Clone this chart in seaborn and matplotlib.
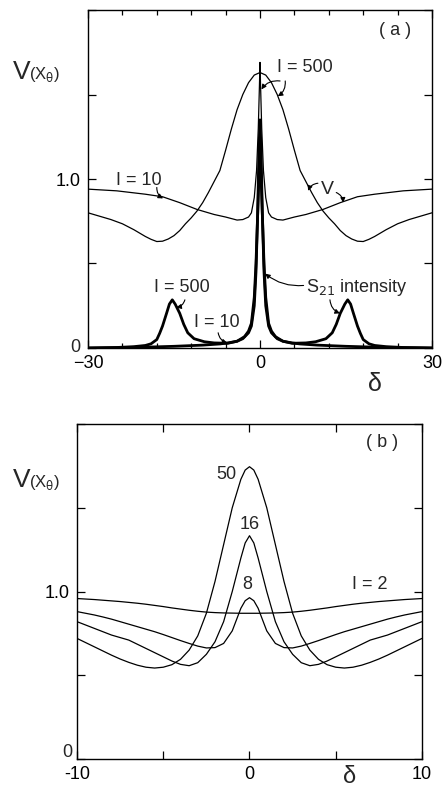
import numpy as np
import matplotlib
matplotlib.use("Agg")
import matplotlib.pyplot as plt
import seaborn as sns

# ---- panel (a) data ----
# V for I=10 (shallow dip plus a narrow spike at delta=0)
a_v10_x = [-30, -25, -20, -17, -14, -11, -8, -6, -4, -3, -2, -1.5, -1.0, -0.6, -0.3, -0.1, 0,
           0.1, 0.3, 0.6, 1.0, 1.5, 2, 3, 4, 6, 8, 11, 14, 17, 20, 25, 30]
a_v10_y = [0.94, 0.93, 0.91, 0.895, 0.86, 0.82, 0.79, 0.775, 0.757, 0.76, 0.775, 0.80, 0.89, 1.05, 1.30, 1.55, 1.69,
           1.55, 1.30, 1.05, 0.89, 0.80, 0.775, 0.76, 0.757, 0.775, 0.79, 0.82, 0.86, 0.895, 0.91, 0.93, 0.94]

# V for I=500 (broad peak)
a_v500_x = [-30, -28, -26, -24, -22, -20, -19, -18, -17, -16, -15, -14, -13, -12, -11, -10, -9, -8, -7,
            -6, -5, -4, -3, -2, -1, 0, 1, 2, 3, 4, 5, 6,
            7, 8, 9, 10, 11, 12, 13, 14, 15, 16, 17, 18, 19, 20, 22, 24, 26, 28, 30]
a_v500_y = [0.80, 0.78, 0.76, 0.735, 0.70, 0.66, 0.643, 0.63, 0.632, 0.645, 0.665, 0.695, 0.735, 0.77, 0.81, 0.86, 0.92, 0.985, 1.05,
            1.17, 1.295, 1.41, 1.50, 1.57, 1.615, 1.63, 1.615, 1.57, 1.50, 1.41, 1.295, 1.17,
            1.05, 0.985, 0.92, 0.86, 0.81, 0.77, 0.735, 0.695, 0.665, 0.645, 0.632, 0.63, 0.643, 0.66, 0.70, 0.735, 0.76, 0.78, 0.80]

# S21 intensity, I=500 (side peaks at +-15)
a_s500_x = [-30, -25, -22, -20, -19, -18, -17.5, -17, -16.3, -15.8, -15.3, -14.8, -14.0, -13.3, -12.6, -11.5,
            -9.7, -8, -5.6, -4, -2.7, -2, -1.5, -1.0, -0.7, -0.4, -0.2, 0,
            0.2, 0.4, 0.7, 1.0, 1.5, 2, 2.7, 4, 5.6, 8, 9.7,
            11.5, 12.6, 13.3, 14.0, 14.8, 15.3, 15.8, 16.3, 17, 17.5, 18, 19, 20, 22, 25, 30]
a_s500_y = [0.0, 0.003, 0.008, 0.015, 0.025, 0.05, 0.087, 0.13, 0.205, 0.26, 0.285, 0.26, 0.205, 0.14, 0.09, 0.055,
            0.037, 0.03, 0.028, 0.04, 0.067, 0.10, 0.146, 0.30, 0.50, 0.80, 1.00, 1.15,
            1.00, 0.80, 0.50, 0.30, 0.146, 0.10, 0.067, 0.04, 0.028, 0.03, 0.037,
            0.055, 0.09, 0.14, 0.205, 0.26, 0.285, 0.26, 0.205, 0.13, 0.087, 0.05, 0.025, 0.015, 0.008, 0.003, 0.0]

# S21 intensity, I=10 (single central line)
a_s10_x = [-30, -25, -20, -15, -10, -7, -5.6, -4, -3, -2, -1.5, -1.0, -0.7, -0.4, -0.2, 0,
           0.2, 0.4, 0.7, 1.0, 1.5, 2, 3, 4, 5.6, 7, 10, 15, 20, 25, 30]
a_s10_y = [0.0, 0.002, 0.005, 0.01, 0.017, 0.024, 0.03, 0.04, 0.055, 0.09, 0.13, 0.25, 0.45, 0.80, 1.15, 1.35,
           1.15, 0.80, 0.45, 0.25, 0.13, 0.09, 0.055, 0.04, 0.03, 0.024, 0.017, 0.01, 0.005, 0.002, 0.0]

# ---- panel (b) data ----
b_x = [-10, -9.5, -9, -8.5, -8, -7.5, -7, -6.5, -6, -5.5, -5, -4.5, -4, -3.5, -3, -2.5, -2, -1.5, -1, -0.5, -0.25, 0,
       0.25, 0.5, 1, 1.5, 2, 2.5, 3, 3.5, 4, 4.5, 5, 5.5, 6, 6.5, 7, 7.5, 8, 8.5, 9, 9.5, 10]
b_i2 = [0.958, 0.955, 0.952, 0.948, 0.944, 0.94, 0.935, 0.93, 0.924, 0.917, 0.91, 0.902, 0.895, 0.888, 0.882, 0.877, 0.874, 0.872, 0.871, 0.87, 0.87, 0.87,
        0.87, 0.87, 0.871, 0.872, 0.874, 0.877, 0.882, 0.888, 0.895, 0.902, 0.91, 0.917, 0.924, 0.93, 0.935, 0.94, 0.944, 0.948, 0.952, 0.955, 0.958]
b_i8 = [0.88, 0.87, 0.86, 0.848, 0.835, 0.82, 0.805, 0.79, 0.775, 0.76, 0.743, 0.725, 0.707, 0.69, 0.674, 0.663, 0.665, 0.69, 0.765, 0.90, 0.945, 0.963,
        0.945, 0.90, 0.765, 0.69, 0.665, 0.663, 0.674, 0.69, 0.707, 0.725, 0.743, 0.76, 0.775, 0.79, 0.805, 0.82, 0.835, 0.848, 0.86, 0.87, 0.88]
b_i16 = [0.82, 0.80, 0.78, 0.76, 0.74, 0.725, 0.71, 0.685, 0.66, 0.635, 0.61, 0.585, 0.565, 0.557, 0.575, 0.625, 0.70, 0.82, 1.00, 1.20, 1.29, 1.333,
         1.29, 1.20, 1.00, 0.82, 0.70, 0.625, 0.575, 0.557, 0.565, 0.585, 0.61, 0.635, 0.66, 0.685, 0.71, 0.725, 0.74, 0.76, 0.78, 0.80, 0.82]
b_i50 = [0.72, 0.695, 0.67, 0.645, 0.62, 0.597, 0.577, 0.56, 0.548, 0.543, 0.548, 0.563, 0.595, 0.65, 0.735, 0.87, 1.06, 1.28, 1.50, 1.67, 1.725, 1.745,
         1.725, 1.67, 1.50, 1.28, 1.06, 0.87, 0.735, 0.65, 0.595, 0.563, 0.548, 0.543, 0.548, 0.56, 0.577, 0.597, 0.62, 0.645, 0.67, 0.695, 0.72]

W, H = 443, 791
sns.set_style("ticks")
plt.rcParams["font.family"] = ["Liberation Sans Narrow", "Liberation Sans", "DejaVu Sans"]
plt.rcParams["mathtext.fontset"] = "custom"
plt.rcParams["mathtext.rm"] = "Liberation Sans Narrow"
plt.rcParams["mathtext.it"] = "Liberation Sans Narrow"

fig = plt.figure(figsize=(W / 100, H / 100), dpi=100)
fig.patch.set_facecolor("white")


def fpos(x, y):
    return x / W, 1 - y / H


axa = fig.add_axes([88 / W, 1 - 348 / H, (432 - 88) / W, (348 - 10) / H])
axb = fig.add_axes([77 / W, 1 - 759 / H, (422 - 77) / W, (759 - 424) / H])

thin = 0.9
thick = 2.0
sns.lineplot(x=a_v10_x, y=a_v10_y, ax=axa, color="black", lw=thin, estimator=None, sort=False)
sns.lineplot(x=a_v500_x, y=a_v500_y, ax=axa, color="black", lw=thin, estimator=None, sort=False)
sns.lineplot(x=a_s10_x, y=a_s10_y, ax=axa, color="black", lw=thick, estimator=None, sort=False)
sns.lineplot(x=a_s500_x, y=a_s500_y, ax=axa, color="black", lw=thick, estimator=None, sort=False)

for ys in [b_i2, b_i8, b_i16, b_i50]:
    sns.lineplot(x=b_x, y=ys, ax=axb, color="black", lw=thin, estimator=None, sort=False)

tick_fs = 13
for ax, xlim, xmaj, xlab, xmin in [
    (axa, (-30, 30), [-30, 0, 30], ["\u221230", "0", "30"], [-24, -18, -12, -6, 6, 12, 18, 24]),
    (axb, (-10, 10), [-10, 0, 10], ["-10", "0", "10"], [-5, 5]),
]:
    ax.set_xlim(*xlim)
    ax.set_ylim(0, 2)
    ax.set_xticks(xmaj)
    ax.set_xticklabels(xlab, fontsize=tick_fs)
    ax.set_xticks(xmin, minor=True)
    ax.set_yticks([0, 0.5, 1.0, 1.5, 2.0])
    ax.set_yticklabels(["", "", "1.0", "", ""], fontsize=tick_fs)
    ax.tick_params(which="both", direction="in", top=True, right=True, width=0.9, colors="black")
    ax.tick_params(which="major", length=6)
    ax.tick_params(axis="x", which="major", pad=5)
    ax.tick_params(axis="y", which="major", pad=5)
    ax.tick_params(which="minor", length=3.5 if ax is axa else 6)
    for s in ax.spines.values():
        s.set_linewidth(1.0)
        s.set_color("black")
    ax.set_xlabel("")
    ax.set_ylabel("")

# the "0" on the y axis sits just above the left x label, as in the original
axa.text(-8 / 344, -4 / 338, "0", transform=axa.transAxes, fontsize=tick_fs, ha="right", va="baseline")
axb.text(-5 / 345, 2 / 335, "0", transform=axb.transAxes, fontsize=tick_fs, ha="right", va="baseline")

arrow = dict(arrowstyle="-|>", color="black", lw=0.8, mutation_scale=7, shrinkA=0, shrinkB=0)
lab_fs = 13


def note(ax, xy, xytext, rad=0.3):
    ax.annotate("", xy=xy, xytext=xytext,
                arrowprops=dict(arrow, connectionstyle=f"arc3,rad={rad}"))


# panel (a) labels
axa.text(23.6, 1.88, "( a )", fontsize=lab_fs, ha="center", va="center")
axa.text(7.9, 1.66, "I = 500", fontsize=lab_fs, ha="center", va="center")
note(axa, (0.25, 1.53), (3.5, 1.58), rad=0.3)
note(axa, (3.1, 1.49), (4.4, 1.58), rad=-0.3)
axa.text(-21.1, 0.99, "I = 10", fontsize=lab_fs, ha="center", va="center")
note(axa, (-16.9, 0.885), (-18.0, 0.95), rad=0.3)
axa.text(11.7, 0.935, "V", fontsize=lab_fs + 1, ha="center", va="center")
note(axa, (8.4, 0.93), (10.1, 0.975), rad=0.3)
note(axa, (14.5, 0.86), (13.3, 0.92), rad=-0.3)
axa.text(16.9, 0.36, "S$_{21}$ intensity", fontsize=lab_fs, ha="center", va="center")
note(axa, (0.9, 0.44), (7.6, 0.37), rad=-0.2)
note(axa, (13.95, 0.205), (12.2, 0.285), rad=0.3)
axa.text(-13.6, 0.36, "I = 500", fontsize=lab_fs, ha="center", va="center")
note(axa, (-14.6, 0.24), (-13.1, 0.285), rad=-0.3)
axa.text(-7.5, 0.148, "I = 10", fontsize=lab_fs, ha="center", va="center")
note(axa, (-5.7, 0.03), (-7.3, 0.09), rad=0.3)

# panel (b) labels
axb.text(7.7, 1.89, "( b )", fontsize=lab_fs, ha="center", va="center")
axb.text(-1.36, 1.70, "50", fontsize=lab_fs, ha="center", va="center")
axb.text(0.0, 1.40, "16", fontsize=lab_fs, ha="center", va="center")
axb.text(-0.14, 1.04, "8", fontsize=lab_fs, ha="center", va="center")
axb.text(7.0, 1.04, "I = 2", fontsize=lab_fs, ha="center", va="center")

# axis titles
for vy in [72, 480]:
    fig.text(*fpos(13, vy), "V", fontsize=19, ha="left", va="center")
    fig.text(*fpos(29, vy + 2), "(X$_{\\theta}$)", fontsize=12, ha="left", va="center")
fig.text(*fpos(375, 384), "\u03b4", fontsize=18, ha="center", va="center")
fig.text(*fpos(350, 777), "\u03b4", fontsize=17, ha="center", va="center")

fig.savefig("out.png", dpi=100, facecolor="white")
